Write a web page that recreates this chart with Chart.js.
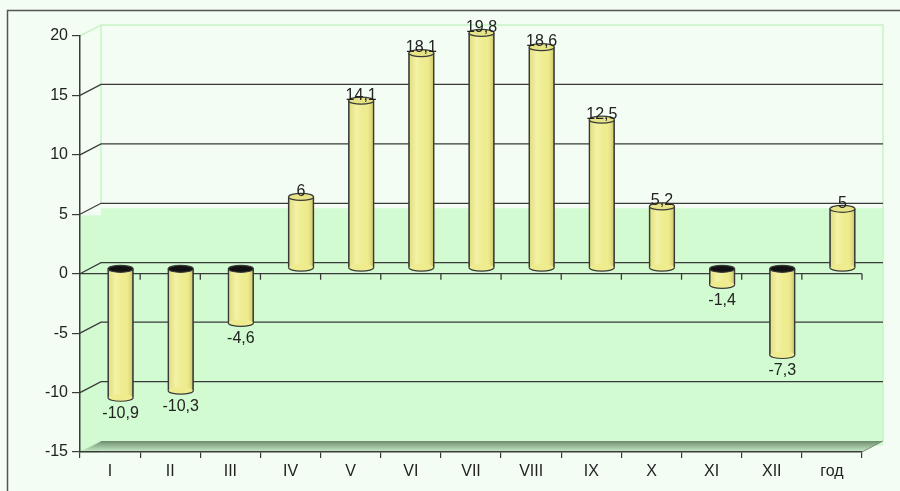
<!DOCTYPE html>
<html>
<head>
<meta charset="utf-8">
<script src="https://cdn.jsdelivr.net/npm/chart.js@4.4.1/dist/chart.umd.min.js"></script>
<style>
  html, body { margin: 0; padding: 0; background: #f3fdf3; }
  canvas { display: block; }
</style>
</head>
<body>
<canvas id="chart" width="900" height="491"></canvas>
<script>
const categories = ['I', 'II', 'III', 'IV', 'V', 'VI', 'VII', 'VIII', 'IX', 'X', 'XI', 'XII', 'год']
const temperatures = [-10.9, -10.3, -4.6, 6, 14.1, 18.1, 19.8, 18.6, 12.5, 5.2, -1.4, -7.3, 5]
const yMin = -15
const yMax = 20
const yStep = 5
const greenFrom = 5

// 3d look: back wall offset, bars sit half way
const depthX = 21
const depthY = 11
const barColor = '#eeec8e'
const lineColor = '#3a3a3a'
const font = { family: '"Liberation Sans", Arial, sans-serif', size: 16 }

initChart()

function initChart() {
  const ctx = document.getElementById('chart')

  new Chart(ctx, {
    type: 'bar',
    data: {
      labels: categories,
      datasets: [
        {
          data: temperatures,
          backgroundColor: barColor,
          borderColor: lineColor,
          borderWidth: 1.2,
          borderSkipped: false,
          barThickness: 25,
          clip: false,
        },
      ],
    },
    options: {
      responsive: false,
      animation: false,
      layout: { padding: { top: 36, right: 38, left: 0, bottom: 0 } },
      plugins: { legend: { display: false }, tooltip: { enabled: false } },
      scales: {
        x: {
          grid: { offset: true, drawOnChartArea: false, tickLength: 6, color: lineColor, lineWidth: 1.2 },
          border: { color: lineColor, width: 1.5 },
          ticks: { font, color: '#222', padding: 4 },
          afterFit: (scale) => { scale.height = 39 },
        },
        y: {
          min: yMin,
          max: yMax,
          grid: { drawOnChartArea: false, tickLength: 8, color: lineColor, lineWidth: 1.2 },
          border: { color: lineColor, width: 1.5 },
          ticks: { stepSize: yStep, font, color: '#222', padding: 4 },
          afterFit: (scale) => { scale.width = 80 },
        },
      },
    },
    plugins: [wallPlugin(), cylinderPlugin()],
  })
}

/**
 * Draws the page frame, walls, floor and back grid lines
 */
function wallPlugin() {
  return {
    id: 'walls',
    beforeDraw(chart) {
      const { ctx, chartArea: area, scales } = chart
      const y = (v) => scales.y.getPixelForValue(v)
      const left = area.left
      const right = area.right
      const floor = y(yMin)

      ctx.save()
      ctx.fillStyle = '#f3fdf3'
      ctx.fillRect(0, 0, chart.width, chart.height)

      // outer frame
      ctx.strokeStyle = '#555'
      ctx.lineWidth = 1.5
      ctx.beginPath()
      ctx.moveTo(7.5, chart.height)
      ctx.lineTo(7.5, 10.5)
      ctx.lineTo(chart.width, 10.5)
      ctx.stroke()

      // green part of the walls
      ctx.fillStyle = '#d2fbd2'
      ctx.fillRect(left + depthX, y(greenFrom) - depthY + 5, right - left, floor - y(greenFrom))
      ctx.fillRect(left, y(greenFrom) + 1, depthX, floor - y(greenFrom))

      // back wall edges
      ctx.strokeStyle = '#c6f4c6'
      ctx.lineWidth = 1.5
      ctx.beginPath()
      ctx.moveTo(left, y(yMax))
      ctx.lineTo(left + depthX, y(yMax) - depthY)
      ctx.lineTo(right + depthX, y(yMax) - depthY)
      ctx.lineTo(right + depthX, floor - depthY)
      ctx.moveTo(left + depthX, y(yMax) - depthY)
      ctx.lineTo(left + depthX, y(greenFrom) - depthY)
      ctx.stroke()

      // floor
      const grad = ctx.createLinearGradient(0, floor - depthY, 0, floor)
      grad.addColorStop(0, '#6c8a6c')
      grad.addColorStop(0.35, '#8fb08f')
      grad.addColorStop(1, '#c8ecc8')
      ctx.fillStyle = grad
      ctx.beginPath()
      ctx.moveTo(left, floor)
      ctx.lineTo(left + depthX, floor - depthY)
      ctx.lineTo(right + depthX, floor - depthY)
      ctx.lineTo(right, floor)
      ctx.closePath()
      ctx.fill()
      ctx.strokeStyle = '#7a8f7a'
      ctx.lineWidth = 1
      ctx.beginPath()
      ctx.moveTo(right, floor)
      ctx.lineTo(right + depthX, floor - depthY)
      ctx.stroke()
      ctx.strokeStyle = '#c0e4c0'
      ctx.beginPath()
      ctx.moveTo(left, floor)
      ctx.lineTo(left + depthX, floor - depthY)
      ctx.stroke()

      // back grid lines
      ctx.strokeStyle = lineColor
      ctx.lineWidth = 1.3
      for (let v = yMin + yStep; v < yMax; v += yStep) {
        ctx.beginPath()
        ctx.moveTo(left, y(v))
        ctx.lineTo(left + depthX, y(v) - depthY)
        ctx.lineTo(right + depthX, y(v) - depthY)
        ctx.stroke()
      }

      // front zero line with its ticks
      const step = (right - left) / categories.length
      ctx.beginPath()
      ctx.moveTo(left, y(0))
      ctx.lineTo(right, y(0))
      for (let i = 1; i <= categories.length; i++) {
        ctx.moveTo(left + i * step, y(0))
        ctx.lineTo(left + i * step, y(0) + 6)
      }
      ctx.stroke()
      ctx.restore()
    },
  }
}

/**
 * Moves the bars half way into the depth and turns them into cylinders
 */
function cylinderPlugin() {
  return {
    id: 'cylinders',
    beforeDatasetsDraw(chart) {
      chart.ctx.save()
      chart.ctx.translate(depthX / 2, -depthY / 2)
    },
    afterDatasetsDraw(chart) {
      const { ctx } = chart
      const meta = chart.getDatasetMeta(0)
      const ry = 3.5

      meta.data.forEach((bar, i) => {
        const { x, y, base, width } = bar.getProps(['x', 'y', 'base', 'width'], true)
        const value = temperatures[i]
        const top = Math.min(y, base)
        const bottom = Math.max(y, base)
        const rx = width / 2
        const l = x - rx
        const r = x + rx

        // shading of the body
        const shade = ctx.createLinearGradient(l, 0, r, 0)
        shade.addColorStop(0, 'rgba(190,185,90,0.25)')
        shade.addColorStop(0.3, 'rgba(255,255,215,0.35)')
        shade.addColorStop(0.7, 'rgba(238,236,142,0)')
        shade.addColorStop(1, 'rgba(150,140,50,0.45)')
        ctx.fillStyle = shade
        ctx.fillRect(l + 0.6, top, width - 1.2, bottom - top)

        // bottom cap
        ctx.lineWidth = 1.2
        ctx.strokeStyle = lineColor
        ctx.fillStyle = barColor
        ctx.beginPath()
        ctx.ellipse(x, bottom, rx, ry, 0, 0, Math.PI * 2)
        ctx.fill()
        ctx.beginPath()
        ctx.ellipse(x, bottom, rx, ry, 0, 0, Math.PI)
        ctx.stroke()
        ctx.beginPath()
        ctx.moveTo(l, top)
        ctx.lineTo(l, bottom)
        ctx.moveTo(r, top)
        ctx.lineTo(r, bottom)
        ctx.stroke()

        // top cap
        ctx.fillStyle = value >= 0 ? '#e6e486' : '#111'
        ctx.beginPath()
        ctx.ellipse(x, top, rx, ry, 0, 0, Math.PI * 2)
        ctx.fill()
        ctx.stroke()

        // value label
        ctx.fillStyle = '#222'
        ctx.font = `${font.size}px ${font.family}`
        ctx.textAlign = 'center'
        ctx.textBaseline = 'alphabetic'
        const text = String(value).replace('.', ',')
        if (value >= 0) {
          ctx.fillText(text, x, top - 1)
        } else {
          ctx.fillText(text, x, bottom + 20)
        }
      })

      ctx.restore()
    },
  }
}
</script>
</body>
</html>
